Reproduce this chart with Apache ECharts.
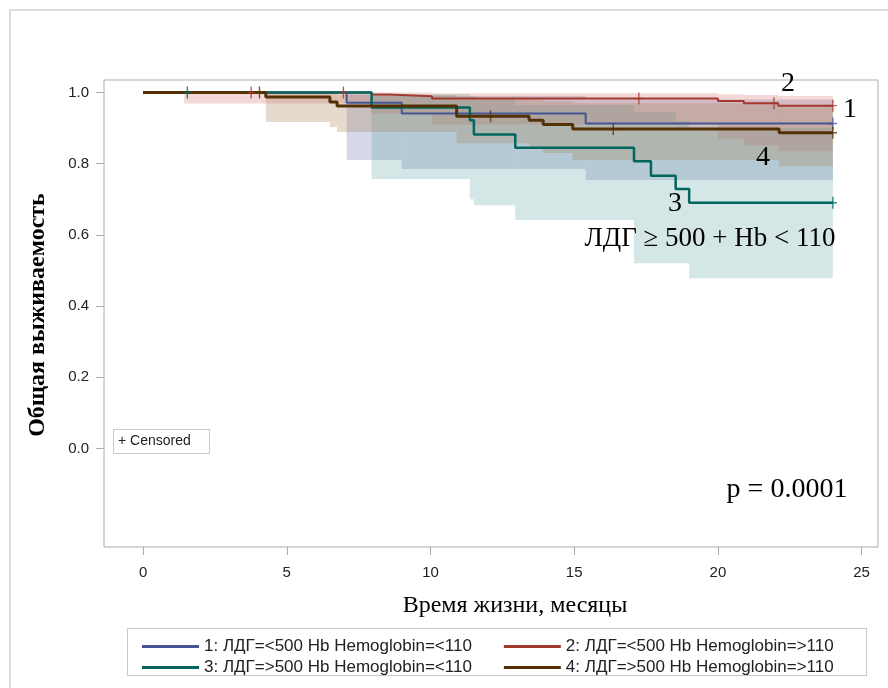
<!DOCTYPE html>
<html><head><meta charset="utf-8">
<script src="https://cdn.jsdelivr.net/npm/echarts@6/dist/echarts.min.js"></script>
<style>html,body{margin:0;padding:0;background:#fff}#c{width:888px;height:688px}</style>
</head><body><div id="c"></div><script>
// ---- categories / names ----
const groupNames = [
  '1: ЛДГ=<500 Hb Hemoglobin=<110',
  '2: ЛДГ=<500 Hb Hemoglobin=>110',
  '3: ЛДГ=>500 Hb Hemoglobin=<110',
  '4: ЛДГ=>500 Hb Hemoglobin=>110'
];
const xTicks = [0, 5, 10, 15, 20, 25];
const yTicks = [0.0, 0.2, 0.4, 0.6, 0.8, 1.0];

// ---- Kaplan-Meier step curves (time, survival) ----
const g1T = [0, 7.08, 9.0, 15.4, 24.0];
const g1S = [1.0, 0.971, 0.941, 0.913, 0.913];
const g2T = [0, 7.95, 8.55, 10.05, 20.0, 20.9, 22.1, 24.0];
const g2S = [1.0, 0.994, 0.989, 0.983, 0.976, 0.970, 0.963, 0.963];
const g3T = [0, 7.95, 11.37, 11.51, 12.95, 17.08, 17.67, 18.53, 19.0, 24.0];
const g3S = [1.0, 0.958, 0.922, 0.882, 0.845, 0.807, 0.766, 0.729, 0.690, 0.690];
const g4T = [0, 4.27, 6.5, 6.75, 10.91, 13.43, 13.92, 14.95, 22.13, 24.0];
const g4S = [1.0, 0.987, 0.973, 0.962, 0.933, 0.922, 0.910, 0.897, 0.887, 0.887];

// ---- censored observations ----
const g1CT = [24.0];
const g1CS = [0.913];
const g2CT = [3.76, 6.97, 17.25, 21.95, 24.0];
const g2CS = [1.0, 1.0, 0.983, 0.970, 0.963];
const g3CT = [1.54, 24.0];
const g3CS = [1.0, 0.690];
const g4CT = [4.05, 12.09, 16.36, 24.0];
const g4CS = [1.0, 0.933, 0.897, 0.887];

// ---- confidence bands (interval bounds, lower, upper) ----
const g1BT = [7.08, 9.0, 15.4, 24.0];
const g1Lo = [0.81, 0.785, 0.754];
const g1Hi = [0.996, 0.99, 0.98];
const g2BT = [1.43, 7.95, 10.05, 20.0, 20.9, 22.1, 24.0];
const g2Lo = [0.969, 0.94, 0.91, 0.87, 0.85, 0.835];
const g2Hi = [1.0, 1.0, 0.998, 0.995, 0.993, 0.99];
const g3BT = [7.95, 11.37, 11.51, 12.95, 17.08, 18.53, 19.0, 24.0];
const g3Lo = [0.757, 0.70, 0.683, 0.642, 0.52, 0.52, 0.478];
const g3Hi = [0.995, 0.99, 0.98, 0.965, 0.945, 0.92, 0.90];
const g4BT = [4.27, 6.5, 6.75, 10.91, 13.43, 13.92, 14.95, 22.13, 24.0];
const g4Lo = [0.917, 0.903, 0.889, 0.857, 0.845, 0.83, 0.81, 0.793];
const g4Hi = [0.998, 0.996, 0.993, 0.985, 0.98, 0.975, 0.97, 0.965];

const lineColors = ['#445694', '#A23A2E', '#01665E', '#543005'];
const bandColors = ['rgba(111,126,179,0.3)', 'rgba(208,91,91,0.24)', 'rgba(102,165,160,0.28)', 'rgba(169,134,91,0.3)'];
const lineWidths = [2, 2, 2.5, 3];

const zip = (a, b) => a.map((v, i) => [v, b[i]]);
const bands = (t, lo, hi) => lo.map((v, i) => [t[i], t[i + 1], v, hi[i]]);

const curves = [[g1T, g1S], [g2T, g2S], [g3T, g3S], [g4T, g4S]];
const cens = [[g1CT, g1CS], [g2CT, g2CS], [g3CT, g3CS], [g4CT, g4CS]];
const bandSets = [[g1BT, g1Lo, g1Hi], [g2BT, g2Lo, g2Hi], [g3BT, g3Lo, g3Hi], [g4BT, g4Lo, g4Hi]];

const plus = 'path://M-0.7,-6H0.7V-0.7H4V0.7H0.7V6H-0.7V0.7H-4V-0.7H-0.7Z';

const series = [];
bandSets.forEach((b, i) => {
  series.push({
    type: 'custom', name: 'band' + i, z: 1, silent: true,
    encode: { x: [0, 1], y: [2, 3] },
    data: bands(b[0], b[1], b[2]),
    renderItem: (params, api) => {
      const a = api.coord([api.value(0), api.value(3)]);
      const c = api.coord([api.value(1), api.value(2)]);
      return { type: 'rect', shape: { x: a[0], y: a[1], width: c[0] - a[0], height: c[1] - a[1] },
               style: { fill: bandColors[i] } };
    }
  });
});
curves.forEach((c, i) => {
  series.push({
    type: 'line', name: groupNames[i], step: 'end', z: 3 + (i === 3 ? 1 : 0),
    showSymbol: false, color: lineColors[i],
    lineStyle: { color: lineColors[i], width: lineWidths[i] },
    data: zip(c[0], c[1])
  });
});
cens.forEach((c, i) => {
  series.push({
    type: 'scatter', name: 'cens' + i, z: 5, symbol: plus, symbolSize: [8, 12],
    itemStyle: { color: lineColors[i] }, data: zip(c[0], c[1])
  });
});

const serif = '"Liberation Serif","Times New Roman",serif';
const sans = '"Liberation Sans",Arial,sans-serif';
const txt = (text, x, y, font, extra) => Object.assign({
  type: 'text', silent: true, x, y, z: 100,
  style: { text, x: 0, y: 0, font, fill: '#000', textAlign: 'center', textVerticalAlign: 'middle', align: 'center', verticalAlign: 'middle' }
}, extra || {});

const legendText = { fontSize: 17, color: '#222', fontFamily: sans };
const chart = echarts.init(document.getElementById('c'), null, { renderer: 'canvas' });
chart.setOption({
  animation: false,
  backgroundColor: '#fff',
  grid: { left: 104, top: 80, right: 10, bottom: 141, show: true, borderColor: '#a9adb2', borderWidth: 1, backgroundColor: 'transparent' },
  xAxis: {
    type: 'value', min: -1.36, max: 25.57,
    axisLine: { show: false, onZero: false },
    splitLine: { show: false },
    axisTick: { show: true, customValues: xTicks, length: 8, lineStyle: { color: '#a9adb2' } },
    axisLabel: { customValues: xTicks, margin: 18, fontSize: 15, color: '#222', fontFamily: sans }
  },
  yAxis: {
    type: 'value', min: -0.277, max: 1.035,
    axisLine: { show: false, onZero: false },
    splitLine: { show: false },
    axisTick: { show: true, customValues: yTicks, length: 8, lineStyle: { color: '#a9adb2' } },
    axisLabel: { customValues: yTicks, margin: 15, fontSize: 15, color: '#222', fontFamily: sans, formatter: v => v.toFixed(1) }
  },
  legend: [
    { data: groupNames.slice(0, 2), left: 137, top: 633, itemWidth: 57, itemHeight: 3, itemGap: 32, icon: 'rect', textStyle: legendText },
    { data: groupNames.slice(2, 4), left: 137, top: 654, itemWidth: 57, itemHeight: 3, itemGap: 32, icon: 'rect', textStyle: legendText }
  ],
  graphic: [
    { type: 'rect', silent: true, shape: { x: 10, y: 10, width: 900, height: 700 }, style: { fill: 'none', stroke: '#dcdcdc', lineWidth: 2 } },
    { type: 'rect', silent: true, shape: { x: 127.5, y: 628.5, width: 739, height: 47 }, style: { fill: '#fff', stroke: '#c8c8c8', lineWidth: 1 }, z: -1 },
    { type: 'rect', silent: true, z: 90, shape: { x: 113.5, y: 429.5, width: 96, height: 24 }, style: { fill: '#fff', stroke: '#c8c8c8', lineWidth: 1 } },
    { type: 'text', silent: true, z: 100, x: 118, y: 441, style: { text: '+ Censored', x: 0, y: 0, font: '14px ' + sans, fill: '#222', textVerticalAlign: 'middle', verticalAlign: 'middle' } },
    txt('Общая выживаемость', 38, 315, 'bold 24px ' + serif, { rotation: Math.PI / 2 }),
    txt('Время жизни, месяцы', 515, 606, '24px ' + serif),
    txt('2', 788, 84, '28px ' + serif),
    txt('1', 850, 110, '28px ' + serif),
    txt('4', 763, 158, '28px ' + serif),
    txt('3', 675, 204, '28px ' + serif),
    txt('ЛДГ ≥ 500 + Hb < 110', 710, 239, '27px ' + serif),
    txt('p = 0.0001', 787, 490, '28px ' + serif)
  ],
  series
});
</script></body></html>
